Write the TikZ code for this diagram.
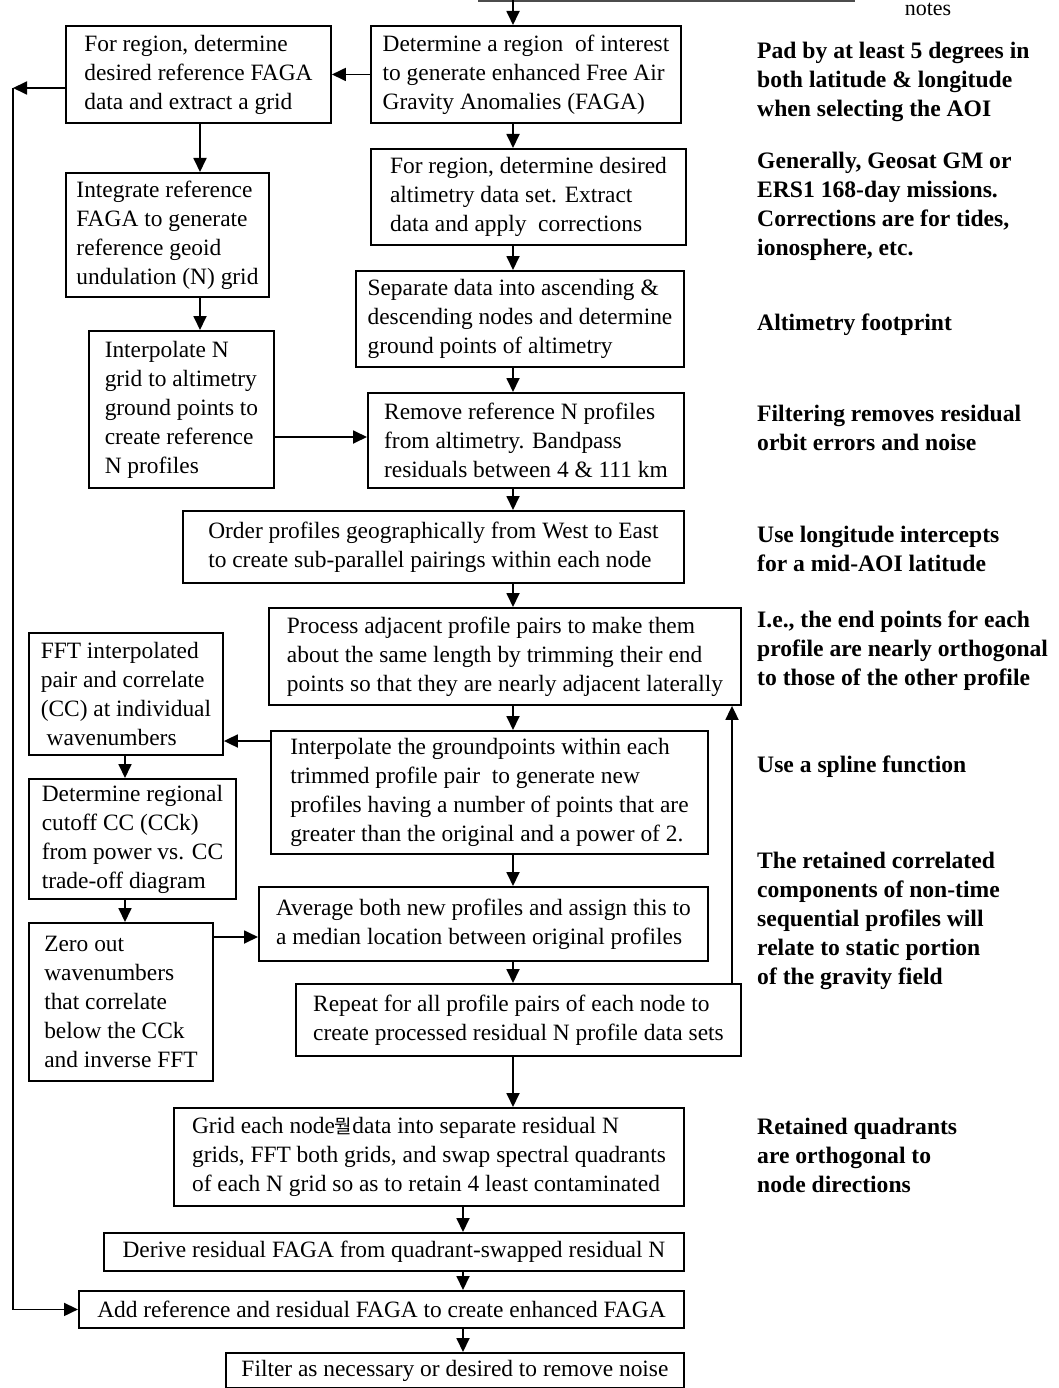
\documentclass[tikz,border=0pt]{standalone}
\usepackage{fontspec}
\setmainfont{Liberation Serif}
\newfontfamily\kofont{Noto Sans CJK KR}
\usetikzlibrary{arrows.meta,calc}
\newcommand\fsz{\fontsize{23.4}{29}\selectfont}
\newcommand\nsz{\fontsize{23.6}{29}\selectfont}
\tikzset{
  box/.style={draw, line width=1.9pt, inner xsep=4pt, inner ysep=2pt, align=left, font=\fsz, anchor=north west},
  cbox/.style={box, align=center},
  arr/.style={line width=1.8pt, -{Triangle[length=14pt,width=13pt]}},
  note/.style={font=\nsz\bfseries, align=left, anchor=north west, inner sep=0pt},
}
\newcommand\mybox[7][box]{%
  \pgfmathsetmacro\bw{#5-#3}\pgfmathsetmacro\bh{#6-#4}%
  \node[#1, minimum width=\bw pt, minimum height=\bh pt] (#2) at (#3,#4) {#7};}
\begin{document}
\begin{tikzpicture}[x=1pt,y=-1pt]
\useasboundingbox (0,0) rectangle (1059,1388);
% column coordinates
\coordinate (X513) at (513,0);
\coordinate (X463) at (463,0);
\coordinate (X200) at (200,0);
\coordinate (X125) at (125,0);
\coordinate (X732) at (732,0);
\coordinate (Y437) at (0,437);
\coordinate (Y741) at (0,741);
\coordinate (Y937) at (0,937);
\coordinate (L) at (13,88);
\coordinate (T) at (513,0);
% cut-off fragment at top
\draw[line width=1.6pt, black!70] (478,1) -- (855,1);
\node[font=\fontsize{22}{24}\selectfont, anchor=base, inner sep=0pt] (notes) at (928,16) {notes};
% boxes
\mybox{B1}{65}{25}{330}{122}{For region, determine\\desired reference FAGA\\data and extract a grid}
\mybox{B2}{370}{25}{680}{122}{Determine a region\ \ of interest\\to generate enhanced Free Air\\Gravity Anomalies (FAGA)}
\mybox{B3}{65}{172}{268}{296}{Integrate reference\\FAGA to generate\\reference geoid\\undulation (N) grid}
\mybox{B4}{370}{148}{685}{244}{For region, determine desired\\altimetry data set. Extract\\data and apply\ \ corrections}
\mybox{B5}{355}{270}{683}{366}{Separate data into ascending \&\\descending nodes and determine\\ground points of altimetry}
\mybox{B6}{88}{330}{273}{487}{Interpolate N\\grid to altimetry\\ground points to\\create reference\\N profiles}
\mybox{B7}{367}{392}{683}{487}{Remove reference N profiles\\from altimetry. Bandpass\\residuals between 4 \& 111 km}
\mybox{B8}{182}{510}{683}{582}{Order profiles geographically from West to East\\to create sub-parallel pairings within each node}
\mybox{B9}{268}{607}{740}{704}{Process adjacent profile pairs to make them\\about the same length by trimming their end\\points so that they are nearly adjacent laterally}
\mybox{B10}{28}{632}{222}{754}{FFT interpolated\\pair and correlate\\(CC) at individual\\\ wavenumbers}
\mybox{B11}{270}{730}{707}{853}{Interpolate the groundpoints within each\\trimmed profile pair\ \ to generate new\\profiles having a number of points that are\\greater than the original and a power of 2.}
\mybox{B12}{28}{778}{235}{898}{Determine regional\\cutoff CC (CCk)\\from power vs. CC\\trade-off diagram}
\mybox{B13}{258}{886}{707}{960}{Average both new profiles and assign this to\\a median location between original profiles}
\mybox{B14}{28}{922}{212}{1080}{Zero out\\wavenumbers\\that correlate\\below the CCk\\and inverse FFT}
\mybox{B15}{295}{983}{740}{1055}{Repeat for all profile pairs of each node to\\create processed residual N profile data sets}
\mybox{B16}{173}{1107}{683}{1205}{Grid each node{\kofont\fontsize{19}{29}\selectfont 뭘}data into separate residual N\\grids, FFT both grids, and swap spectral quadrants\\of each N grid so as to retain 4 least contaminated}
\mybox[cbox]{B17}{103}{1232}{683}{1270}{Derive residual FAGA from quadrant-swapped residual N}
\mybox[cbox]{B18}{78}{1290}{683}{1327}{Add reference and residual FAGA to create enhanced FAGA}
\mybox[cbox]{B19}{225}{1352}{683}{1387}{Filter as necessary or desired to remove noise}
% notes
\node[note] (n1) at (757,42) {Pad by at least 5 degrees in\\both latitude \& longitude\\when selecting the AOI};
\node[note] (n2) at (757,152) {Generally, Geosat GM or\\ERS1 168-day missions.\\Corrections are for tides,\\ionosphere, etc.};
\node[note] (n3) at (757,314) {Altimetry footprint};
\node[note] (n4) at (757,405) {Filtering removes residual\\orbit errors and noise};
\node[note] (n5) at (757,526) {Use longitude intercepts\\for a mid-AOI latitude};
\node[note] (n6) at (757,611) {I.e., the end points for each\\profile are nearly orthogonal\\to those of the other profile};
\node[note] (n7) at (757,756) {Use a spline function};
\node[note] (n8) at (757,852) {The retained correlated\\components of non-time\\sequential profiles will\\relate to static portion\\of the gravity field};
\node[note] (n9) at (757,1118) {Retained quadrants\\are orthogonal to\\node directions};
% connectors
\draw[arr] (T) -- (B2.north -| X513);
\draw[arr] (B2.west) -- (B1.east);
\draw[arr] (B1.west |- L) -- (L);
\draw[arr] (L) |- (B18.west);
\draw[arr] (B1.south -| X200) -- (B3.north -| X200);
\draw[arr] (B2.south -| X513) -- (B4.north -| X513);
\draw[arr] (B4.south -| X513) -- (B5.north -| X513);
\draw[arr] (B3.south -| X200) -- (B6.north -| X200);
\draw[arr] (B5.south -| X513) -- (B7.north -| X513);
\draw[arr] (B6.east |- Y437) -- (B7.west |- Y437);
\draw[arr] (B7.south -| X513) -- (B8.north -| X513);
\draw[arr] (B8.south -| X513) -- (B9.north -| X513);
\draw[arr] (B9.south -| X513) -- (B11.north -| X513);
\draw[arr] (B11.west |- Y741) -- (B10.east |- Y741);
\draw[arr] (B10.south -| X125) -- (B12.north -| X125);
\draw[arr] (B12.south -| X125) -- (B14.north -| X125);
\draw[arr] (B14.east |- Y937) -- (B13.west |- Y937);
\draw[arr] (B11.south -| X513) -- (B13.north -| X513);
\draw[arr] (B13.south -| X513) -- (B15.north -| X513);
\draw[arr] (B15.north -| X732) -- (B9.south -| X732);
\draw[arr] (B15.south -| X513) -- (B16.north -| X513);
\draw[arr] (B16.south -| X463) -- (B17.north -| X463);
\draw[arr] (B17.south -| X463) -- (B18.north -| X463);
\draw[arr] (B18.south -| X463) -- (B19.north -| X463);
\end{tikzpicture}
\end{document}
